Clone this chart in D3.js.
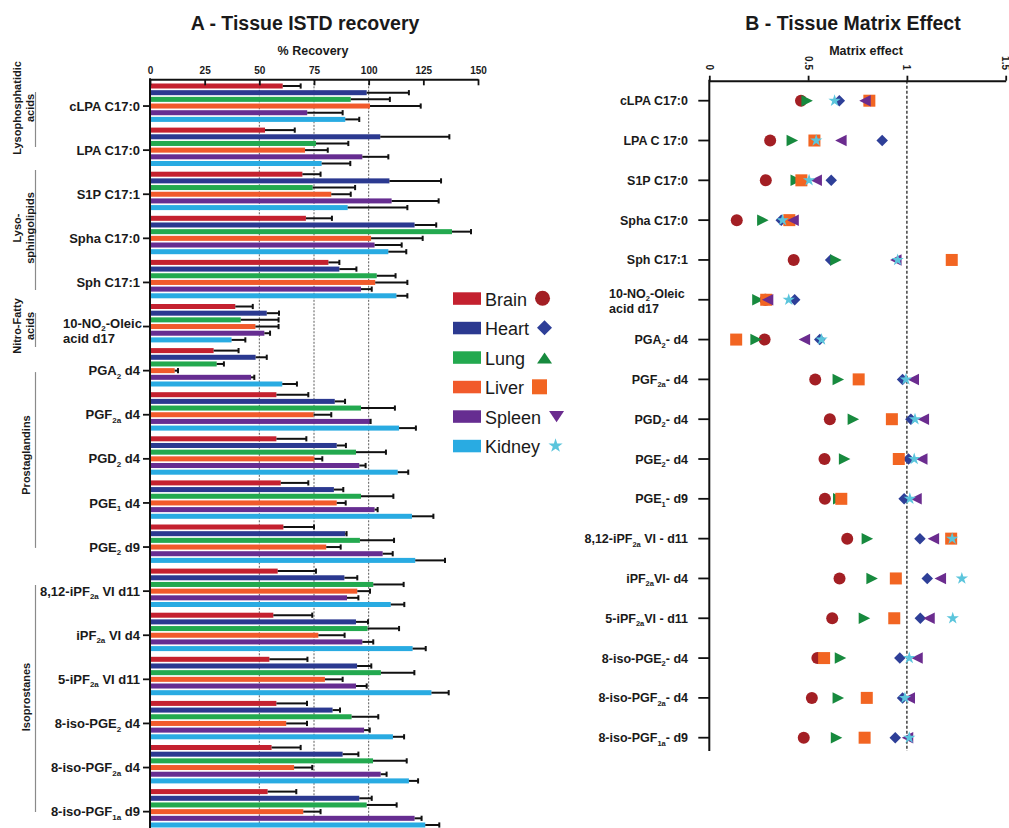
<!DOCTYPE html>
<html>
<head>
<meta charset="utf-8">
<script src="https://cdn.jsdelivr.net/npm/d3@7"></script>
<style>
  body { margin: 0; background: #fff; }
  svg { display: block; font-family: "Liberation Sans", Arial, Helvetica, sans-serif; }
  text { white-space: pre; }
</style>
</head>
<body>
<svg id="chart" width="1009" height="828"></svg>
<script>
// ---------- data ----------
const tissues = ["Brain", "Heart", "Lung", "Liver", "Spleen", "Kidney"];

// Panel A: internal standards ("_{..}" = subscript, "\n" = line break)
const recoveryCompounds = [
  "cLPA C17:0", "LPA C17:0", "S1P C17:1", "Spha C17:0", "Sph C17:1",
  "10-NO_{2}-Oleic\nacid d17", "PGA_{2} d4", "PGF_{2a} d4", "PGD_{2} d4",
  "PGE_{1} d4", "PGE_{2} d9", "8,12-iPF_{2a} VI d11", "iPF_{2a} VI d4",
  "5-iPF_{2a} VI d11", "8-iso-PGE_{2} d4", "8-iso-PGF_{2a} d4", "8-iso-PGF_{1a} d9"
];

// % recovery (mean) and SD per tissue, in compound order
const brainRecovery  = [60.7, 52.6, 69.7, 71.3, 81.6, 39.0, 29.1, 57.8, 57.8, 59.8, 61.0, 58.4, 56.4, 54.6, 57.8, 55.6, 53.8];
const brainSD        = [8.2, 13.6, 8.3, 11.9, 5.0, 8.0, 11.4, 14.6, 13.7, 12.6, 14.0, 17.5, 17.8, 17.4, 14.0, 13.3, 13.1];
const heartRecovery  = [99.1, 105.3, 109.5, 121.0, 86.6, 53.4, 48.3, 84.5, 85.4, 84.1, 89.3, 88.9, 94.2, 94.7, 83.5, 88.1, 95.7];
const heartSD        = [19.3, 31.6, 23.6, 9.9, 7.8, 5.6, 5.1, 4.7, 4.2, 4.3, 0.6, 5.9, 5.5, 6.5, 3.4, 7.2, 5.7];
const lungRecovery   = [91.8, 75.9, 74.4, 138.1, 103.7, 41.5, 30.5, 96.5, 94.2, 96.5, 96.0, 102.1, 99.5, 105.6, 92.2, 102.0, 99.1];
const lungSD         = [17.9, 14.8, 19.4, 8.7, 8.6, 17.3, 3.3, 15.5, 13.7, 14.8, 15.6, 13.9, 14.4, 15.3, 12.2, 15.4, 13.7];
const liverRecovery  = [100.6, 70.9, 82.9, 101.1, 103.0, 48.2, 11.3, 74.8, 75.2, 85.4, 80.6, 94.8, 77.0, 80.0, 62.3, 65.9, 70.1];
const liverSD        = [23.2, 10.4, 8.9, 23.6, 14.7, 10.6, 1.5, 8.1, 3.6, 4.1, 6.6, 5.8, 12.0, 8.1, 9.5, 8.3, 7.9];
const spleenRecovery = [71.9, 97.1, 110.5, 102.7, 96.5, 52.3, 46.2, 100.6, 95.7, 102.7, 106.4, 90.1, 97.1, 94.2, 97.9, 105.5, 121.0];
const spleenSD       = [16.2, 11.9, 21.5, 12.4, 4.9, 2.6, 1.5, 0.3, 2.9, 1.4, 4.6, 5.2, 5.0, 4.9, 2.6, 2.7, 3.2];
const kidneyRecovery = [89.3, 78.5, 90.4, 109.0, 112.7, 37.3, 60.5, 113.9, 113.3, 119.8, 121.3, 110.1, 120.1, 128.7, 111.1, 118.4, 125.9];
const kidneySD       = [6.4, 13.1, 27.3, 8.2, 5.0, 6.3, 6.7, 7.7, 4.8, 9.8, 13.6, 6.2, 6.0, 7.9, 5.1, 4.2, 6.4];

const recoveryTicks = [0, 25, 50, 75, 100, 125, 150];
const recoveryGuides = [50, 75, 100];

// compound classes shown on the left of panel A
const classLabels = [["Lysophosphatidic", "acids"], ["Lyso-", "sphingolipids"], ["Nitro-Fatty", "acids"], ["Prostaglandins"], ["Isoprostanes"]];
const classFirst = [0, 2, 5, 6, 11];
const classLast  = [1, 4, 5, 10, 16];

// Panel B: matrix effect
const matrixCompounds = [
  "cLPA C17:0", "LPA C 17:0", "S1P C17:0", "Spha C17:0", "Sph C17:1",
  "10-NO_{2}-Oleic\nacid d17", "PGA_{2}- d4", "PGF_{2a}- d4", "PGD_{2}- d4",
  "PGE_{2}- d4", "PGE_{1}- d9", "8,12-iPF_{2a} VI - d11", "iPF_{2a}VI- d4",
  "5-iPF_{2a}VI - d11", "8-iso-PGE_{2}- d4", "8-iso-PGF_{2a}- d4", "8-iso-PGF_{1a}- d9"
];
const brainME  = [0.464, 0.308, 0.286, 0.139, 0.427, 0.285, 0.280, 0.536, 0.610, 0.583, 0.585, 0.698, 0.659, 0.622, 0.547, 0.519, 0.478];
const heartME  = [0.658, 0.875, 0.617, 0.364, 0.614, 0.432, 0.559, 0.978, 1.020, 1.008, 0.986, 1.066, 1.103, 1.068, 0.964, 0.978, 0.941];
const lungME   = [0.495, 0.420, 0.440, 0.271, 0.641, 0.246, 0.237, 0.653, 0.729, 0.685, 0.655, 0.800, 0.824, 0.785, 0.664, 0.653, 0.644];
const liverME  = [0.810, 0.532, 0.466, 0.405, 1.227, 0.288, 0.136, 0.756, 0.924, 0.959, 0.668, 1.224, 0.944, 0.936, 0.581, 0.797, 0.786];
const spleenME = [0.788, 0.666, 0.541, 0.424, 0.944, 0.295, 0.481, 1.032, 1.083, 1.075, 1.046, 1.134, 1.169, 1.112, 1.051, 1.012, 1.003];
const kidneyME = [0.634, 0.541, 0.505, 0.371, 0.953, 0.402, 0.568, 0.995, 1.041, 1.037, 1.015, 1.229, 1.278, 1.232, 1.012, 0.990, 1.012];

const matrixTicks = [0, 0.5, 1, 1.5];
const matrixTickLabels = ["0", "0.5", "1", "1.5"];
const matrixReference = 1;

// ---------- styling ----------
const barColors  = ["#C4212F", "#2B3990", "#23A94F", "#F15A2B", "#662D91", "#29ABE2"];
const markColors = ["#A31F24", "#2E3F98", "#178A3E", "#F26522", "#6B2C8F", "#5BC5DC"];
const ink = "#1a1a1a";

const recovery = [brainRecovery, heartRecovery, lungRecovery, liverRecovery, spleenRecovery, kidneyRecovery];
const recoverySD = [brainSD, heartSD, lungSD, liverSD, spleenSD, kidneySD];
const matrix = [brainME, heartME, lungME, liverME, spleenME, kidneyME];

const svg = d3.select("#chart");
svg.append("rect").attr("width", 1009).attr("height", 828).attr("fill", "#fff");

// Writes a label with "_{..}" subscripts and "\n" line breaks into a <text>
function richText(text, label, o) {
  let shifted = 0;
  label.split("\n").forEach((line, li) => {
    const parts = line.split(/(_\{[^}]*\})/).filter(s => s.length);
    parts.forEach((p, pi) => {
      const ts = text.append("tspan");
      const isSub = p.startsWith("_{");
      let dy = 0;
      if (pi === 0) {
        ts.attr("x", o.x);
        dy = (li === 0 ? o.firstDy : o.lineHeight) - shifted;
        shifted = 0;
      }
      if (isSub) {
        dy += o.subShift; shifted += o.subShift;
        ts.attr("font-size", o.subSize);
      } else if (shifted) {
        dy -= shifted; shifted = 0;
      }
      ts.attr("dy", dy).text(isSub ? p.slice(2, -1) : p);
    });
  });
}

// Marker outlines, all centred on (0,0); s = overall size in px
function shapePath(kind, s) {
  const h = s / 2;
  switch (kind) {
    case "circle":  return d3.symbol(d3.symbolCircle, Math.PI * h * h)();
    case "diamond": return `M0,${-h}L${h},0L0,${h}L${-h},0Z`;
    case "square":  return `M${-h},${-h}H${h}V${h}H${-h}Z`;
    case "star":    return d3.symbol(d3.symbolStar, (h * h) / 0.8908130915)();
    case "triUp":   return `M0,${-h * 0.78}L${h},${h * 0.7}L${-h},${h * 0.7}Z`;
    case "triDown": return `M0,${h * 0.78}L${h},${-h * 0.7}L${-h},${-h * 0.7}Z`;
    case "triRight":return `M${-h},${-h}L${h},0L${-h},${h}Z`;
    case "triLeft": return `M${h},${-h}L${-h},0L${h},${h}Z`;
  }
}
const legendShapes = ["circle", "diamond", "triUp", "square", "triDown", "star"];
const plotShapes   = ["circle", "diamond", "triRight", "square", "triLeft", "star"];

// =============== Panel A: recovery bars ===============
const xA = d3.scaleLinear().domain([0, 150]).range([150, 478]);
const axisYA = 79.3;
const groupStep = 44.1;
const yA = d3.scaleBand().domain(recoveryCompounds)
  .range([83.5, 83.5 + recoveryCompounds.length * groupStep]).padding(0);
const yIn = d3.scaleBand().domain(tissues).range([0, 38.4]).paddingInner(0.25);

const gA = svg.append("g");

gA.append("text").attr("x", 305).attr("y", 30).attr("text-anchor", "middle")
  .attr("font-size", 19.5).attr("font-weight", "bold").attr("fill", ink)
  .text("A - Tissue ISTD recovery");
gA.append("text").attr("x", 313).attr("y", 55).attr("text-anchor", "middle")
  .attr("font-size", 12.5).attr("font-weight", "bold").attr("fill", ink)
  .text("% Recovery");

// dotted guides
gA.selectAll(".guide").data(recoveryGuides).join("line")
  .attr("x1", d => xA(d)).attr("x2", d => xA(d))
  .attr("y1", axisYA).attr("y2", 828)
  .attr("stroke", "#333").attr("stroke-width", 0.8).attr("stroke-dasharray", "2,1.5");

// bars + error bars
recoveryCompounds.forEach((c, ci) => {
  tissues.forEach((t, ti) => {
    const m = recovery[ti][ci], sd = recoverySD[ti][ci];
    const y0 = yA(c) + yIn(t), bh = yIn.bandwidth(), yc = y0 + bh / 2;
    gA.append("rect").attr("x", xA(0)).attr("y", y0)
      .attr("width", xA(m) - xA(0)).attr("height", bh).attr("fill", barColors[ti]);
    gA.append("line").attr("x1", xA(m)).attr("x2", xA(m + sd)).attr("y1", yc).attr("y2", yc)
      .attr("stroke", "#111").attr("stroke-width", 2);
    gA.append("line").attr("x1", xA(m + sd)).attr("x2", xA(m + sd))
      .attr("y1", yc - 2.6).attr("y2", yc + 2.6)
      .attr("stroke", "#111").attr("stroke-width", 2);
  });
});

// top axis
const axA = gA.append("g").attr("transform", `translate(0,${axisYA})`)
  .call(d3.axisTop(xA).tickValues(recoveryTicks).tickSize(-6).tickSizeOuter(0).tickPadding(5));
axA.select(".domain").attr("stroke", "#111").attr("stroke-width", 2);
axA.selectAll(".tick line").attr("stroke", "#111").attr("stroke-width", 1.8);
axA.selectAll(".tick text").attr("font-family", null).attr("font-size", 10)
  .attr("font-weight", "bold").attr("fill", ink);

// left axis
gA.append("line").attr("x1", xA(0)).attr("x2", xA(0)).attr("y1", axisYA - 1).attr("y2", 828)
  .attr("stroke", "#111").attr("stroke-width", 2);
const tickYA = c => yA(c) + yIn("Liver") + yIn.bandwidth() / 2;
recoveryCompounds.forEach(c => {
  const ty = tickYA(c);
  gA.append("line").attr("x1", xA(0) - 7).attr("x2", xA(0)).attr("y1", ty).attr("y2", ty)
    .attr("stroke", "#111").attr("stroke-width", 1.8);
  const multi = c.includes("\n");
  const t = gA.append("text").attr("y", ty)
    .attr("font-size", 13).attr("font-weight", "bold").attr("fill", ink)
    .attr("text-anchor", multi ? "start" : "end");
  richText(t, c, multi
    ? { x: 63, firstDy: 1, lineHeight: 15, subSize: 8, subShift: 3.5 }
    : { x: 140, firstDy: 4.6, lineHeight: 15, subSize: 8, subShift: 3.5 });
});

// compound class brackets
const bracketLayout = [
  { top: 8.5, bottom: 19, shift: -11.5 },
  { top: -1.7, bottom: 8.3, shift: -2 },
  { top: 9, bottom: -4.6, shift: -4 },
  { top: 24, bottom: 15, shift: -5 },
  { top: 16.4, bottom: 15.5, shift: -1.5 }
];
classLabels.forEach((lines, k) => {
  const L = bracketLayout[k];
  const y1 = yA(recoveryCompounds[classFirst[k]]) + L.top;
  const y2 = yA(recoveryCompounds[classLast[k]]) + 38.4 - L.bottom;
  gA.append("line").attr("x1", 35.5).attr("x2", 35.5).attr("y1", y1).attr("y2", y2)
    .attr("stroke", "#8a8a8a").attr("stroke-width", 1.2);
  const cy = (y1 + y2) / 2 + L.shift;
  const bx = lines.length > 1 ? 21 : 29.5;
  const t = gA.append("text").attr("transform", `translate(${bx},${cy}) rotate(-90)`)
    .attr("text-anchor", "middle").attr("font-size", 11).attr("font-weight", "bold").attr("fill", ink);
  lines.forEach((ln, i) => t.append("tspan").attr("x", 0).attr("dy", i === 0 ? 0 : 12.5).text(ln));
});

// legend
const legend = svg.append("g");
tissues.forEach((t, i) => {
  const cy = 298.3 + i * 29.5;
  legend.append("rect").attr("x", 453).attr("y", cy - 6).attr("width", 28).attr("height", 12.5)
    .attr("fill", barColors[i]);
  const txt = legend.append("text").attr("x", 485).attr("y", cy + 7.2)
    .attr("font-size", 18).attr("fill", ink).text(t);
  const w = txt.node().getComputedTextLength();
  legend.append("path").attr("d", shapePath(legendShapes[i], 15))
    .attr("transform", `translate(${485 + w + 8 + 7.5 + (i === 2 ? 4 : 0)},${cy + (i === 2 ? 1 : 0)})`)
    .attr("fill", markColors[i]);
});

// =============== Panel B: matrix effect ===============
const xB = d3.scaleLinear().domain([0, 1.5]).range([709.3, 1005.7]);
const axisYB = 80.7;
const yB = d3.scalePoint().domain(matrixCompounds).range([100.7, 737.7]);
const axisBottomB = 751;
const gB = svg.append("g");

gB.append("text").attr("x", 853).attr("y", 30).attr("text-anchor", "middle")
  .attr("font-size", 19.5).attr("font-weight", "bold").attr("fill", ink)
  .text("B - Tissue Matrix Effect");
gB.append("text").attr("x", 866).attr("y", 55).attr("text-anchor", "middle")
  .attr("font-size", 12.5).attr("font-weight", "bold").attr("fill", ink)
  .text("Matrix effect");

// reference line at a matrix effect of 1
gB.append("line").attr("x1", xB(matrixReference)).attr("x2", xB(matrixReference))
  .attr("y1", axisYB).attr("y2", axisBottomB)
  .attr("stroke", "#222").attr("stroke-width", 1.3).attr("stroke-dasharray", "3,2");

// top axis
const axB = gB.append("g").attr("transform", `translate(0,${axisYB})`)
  .call(d3.axisTop(xB).tickValues(matrixTicks).tickSize(5).tickSizeOuter(0).tickFormat(""));
axB.select(".domain").attr("stroke", "#111").attr("stroke-width", 2);
axB.selectAll(".tick line").attr("stroke", "#111").attr("stroke-width", 1.8);
matrixTicks.forEach((v, i) => {
  gB.append("text").attr("transform", `translate(${xB(v)},70) rotate(90)`)
    .attr("text-anchor", "end").attr("dy", "0.35em")
    .attr("font-size", 10).attr("font-weight", "bold").attr("fill", ink)
    .text(matrixTickLabels[i]);
});

// left axis
gB.append("line").attr("x1", xB(0)).attr("x2", xB(0)).attr("y1", axisYB - 1).attr("y2", axisBottomB)
  .attr("stroke", "#111").attr("stroke-width", 2);
matrixCompounds.forEach(c => {
  const ty = yB(c);
  gB.append("line").attr("x1", xB(0) - 11).attr("x2", xB(0)).attr("y1", ty).attr("y2", ty)
    .attr("stroke", "#111").attr("stroke-width", 1.8);
  const multi = c.includes("\n");
  const t = gB.append("text").attr("y", ty)
    .attr("font-size", 12.5).attr("font-weight", "bold").attr("fill", ink)
    .attr("text-anchor", multi ? "start" : "end");
  richText(t, c, multi
    ? { x: 609, firstDy: -2, lineHeight: 15, subSize: 7.5, subShift: 3.5 }
    : { x: 688, firstDy: 4.5, lineHeight: 15, subSize: 7.5, subShift: 3.5 });
});

// markers, one layer per tissue
tissues.forEach((t, ti) => {
  const size = plotShapes[ti] === "star" ? 13 : (plotShapes[ti] === "triRight" || plotShapes[ti] === "triLeft" ? 11.5 : 12);
  gB.append("g").selectAll("path").data(matrixCompounds).join("path")
    .attr("d", shapePath(plotShapes[ti], plotShapes[ti] === "diamond" ? 11.5 : size))
    .attr("transform", (c, ci) => `translate(${xB(matrix[ti][ci])},${yB(c)})`)
    .attr("fill", markColors[ti]);
});
</script>
</body>
</html>
